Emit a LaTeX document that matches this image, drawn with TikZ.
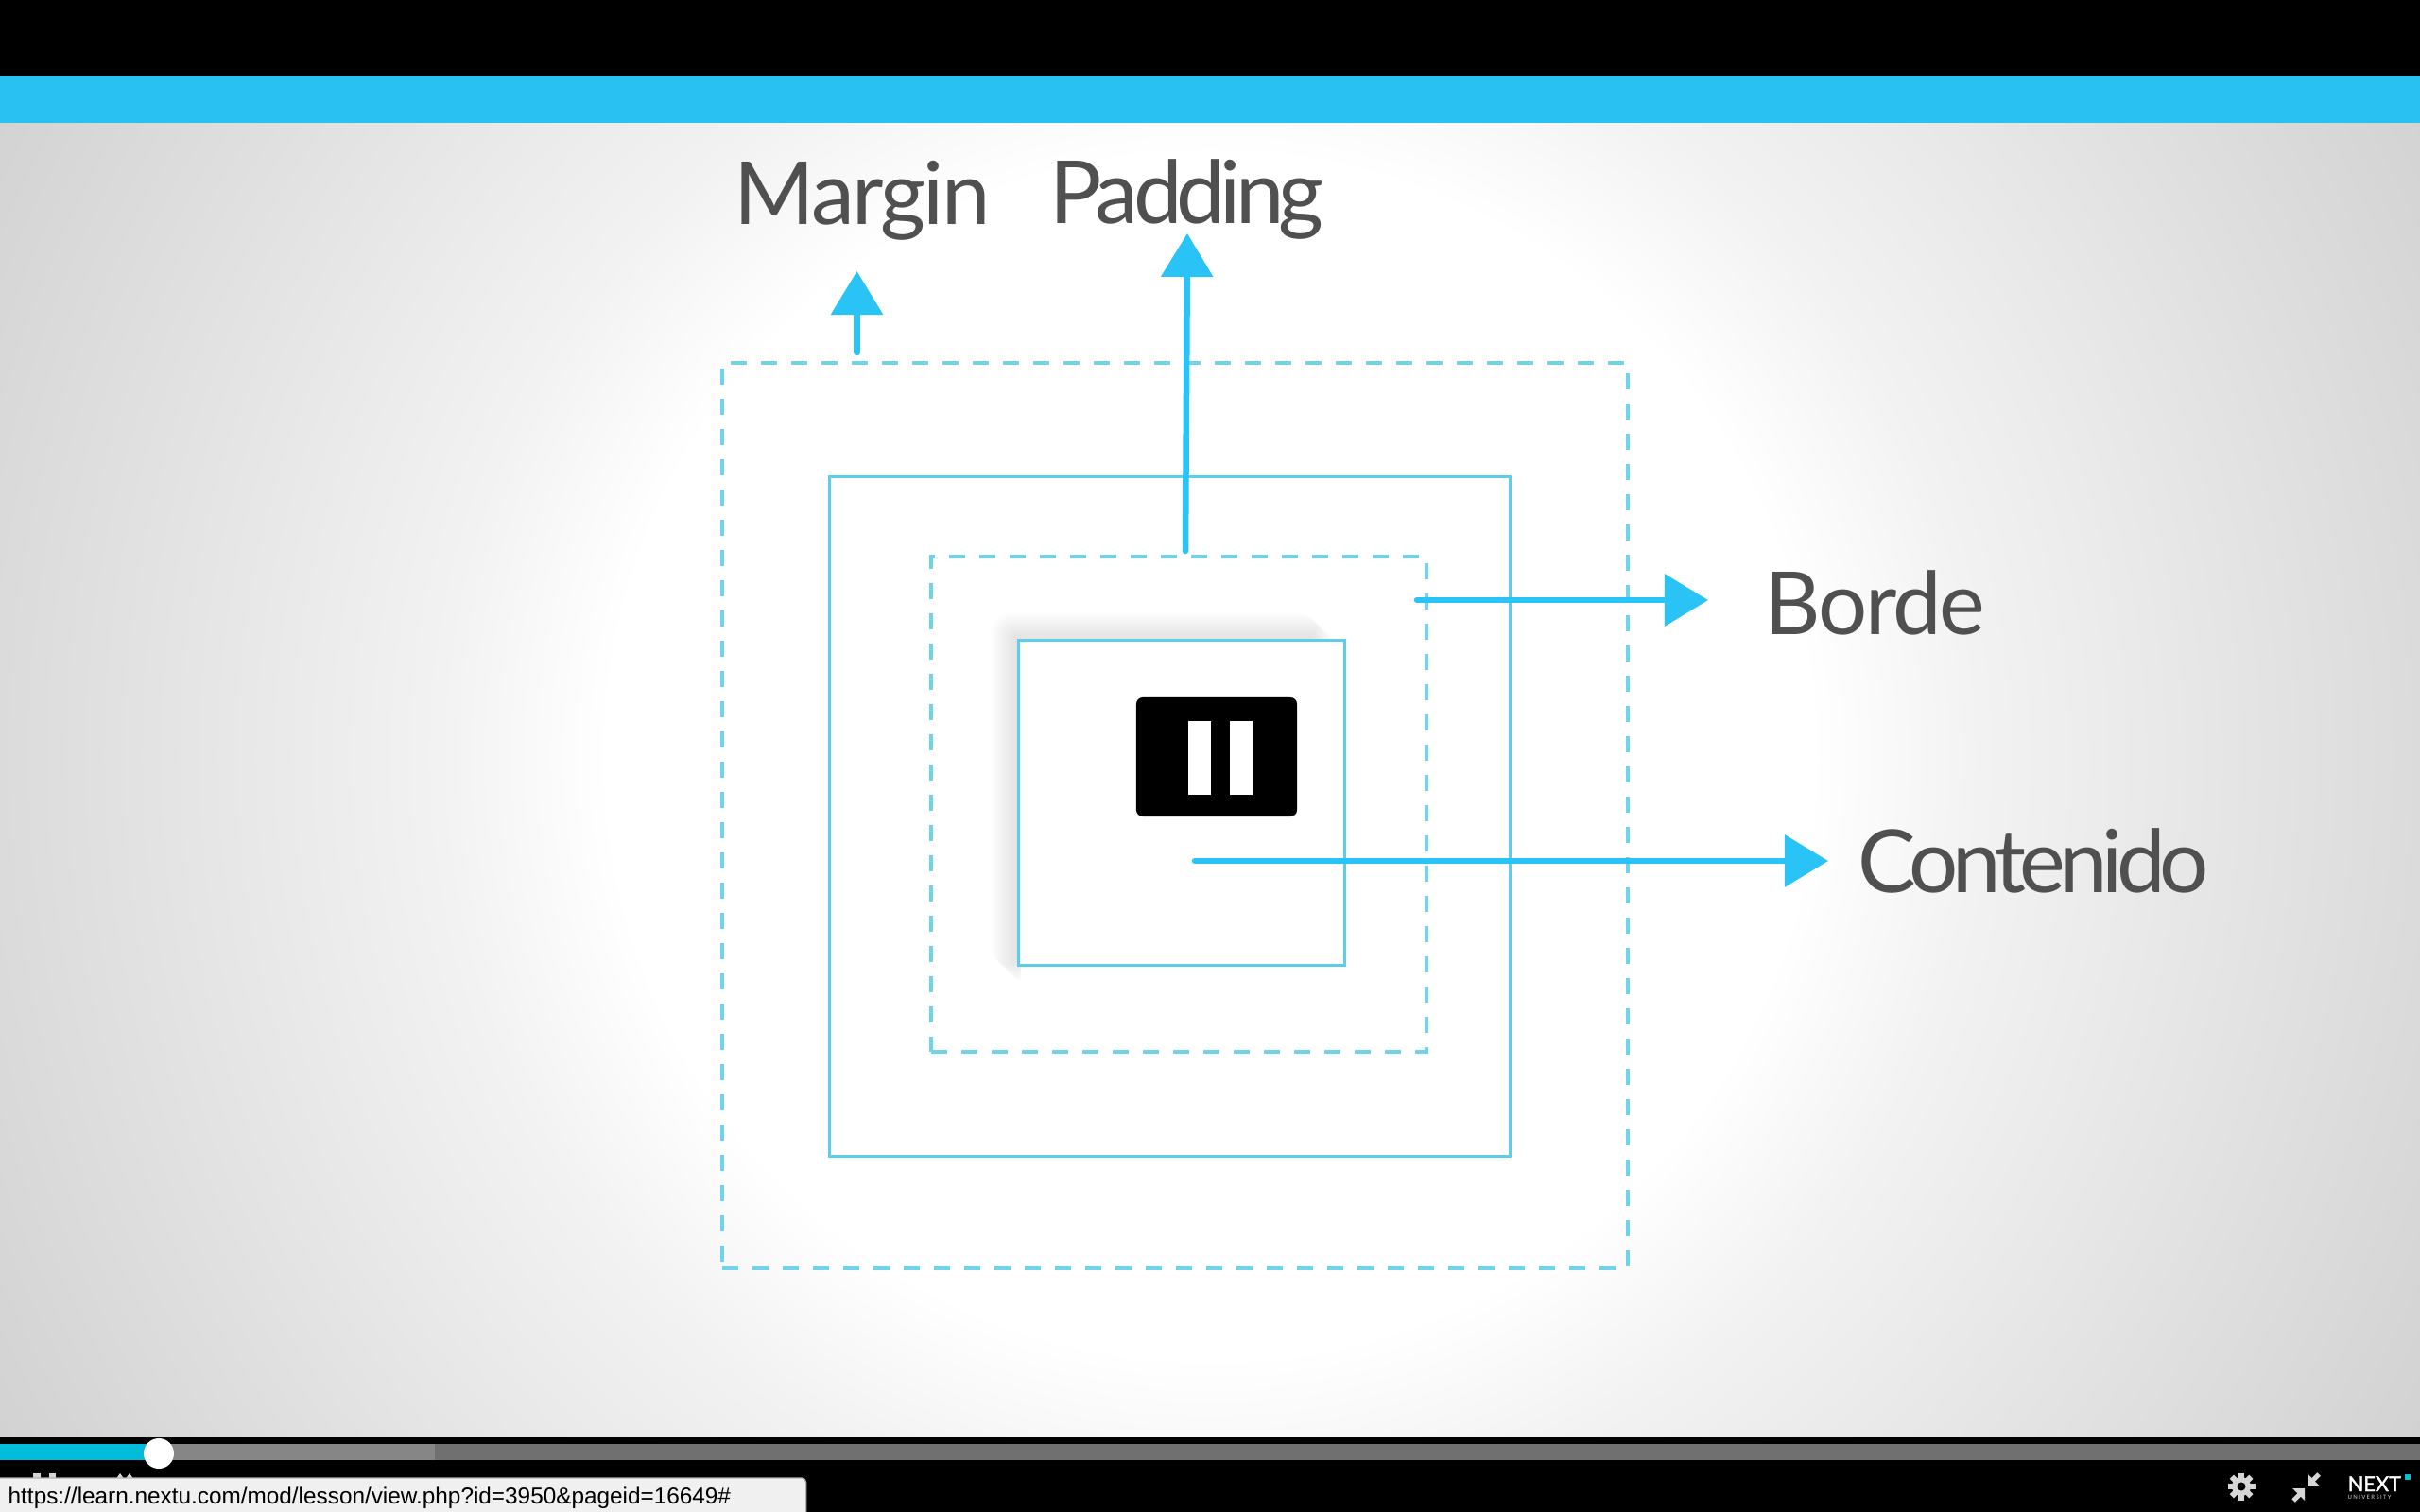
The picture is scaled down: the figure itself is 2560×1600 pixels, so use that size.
\documentclass[tikz,border=0pt]{standalone}
\usepackage{fontspec}
\usetikzlibrary{arrows.meta}
\setmainfont{Lato}
\newfontfamily\urlfont{Liberation Sans}
\newfontfamily\logofont[FakeBold=1.5]{Lato}
\newfontfamily\spacedfont[LetterSpace=22]{Lato}
\definecolor{barblue}{HTML}{29C1F2}
\definecolor{arrowblue}{HTML}{29C4F5}
\definecolor{boxblue}{HTML}{5CCDEB}
\definecolor{dashblue}{HTML}{70D3EA}
\definecolor{labelgray}{HTML}{505050}
\definecolor{playcyan}{HTML}{00BCD8}
\definecolor{iconwhite}{HTML}{D6D6D6}
\definecolor{glowa}{HTML}{F2F2F2}
\definecolor{glowb}{HTML}{EBEBEB}
\definecolor{glowc}{HTML}{DFDFDF}
\definecolor{glowd}{HTML}{D5D5D5}
\definecolor{glowe}{HTML}{CCCCCC}
\pgfdeclareradialshading{glow}{\pgfpointorigin}{color(0bp)=(white); color(10.6bp)=(white); color(13.6bp)=(glowa); color(16bp)=(glowb); color(20bp)=(glowc); color(23.4bp)=(glowd); color(26.6bp)=(glowe); color(50bp)=(glowe)}
\tikzset{
  solidbox/.style={draw=boxblue,line width=0.03cm,inner sep=0pt,outer sep=0pt},
  dashbox/.style={draw=dashblue,line width=0.04cm,dash pattern=on 0.17cm off 0.15cm,inner sep=0pt,outer sep=0pt},
  pointer/.style={draw=arrowblue,line width=0.065cm,line cap=round,-{Triangle[width=0.54cm,length=0.46cm,fill=arrowblue]}},
  boxlabel/.style={text=labelgray,inner sep=0pt,anchor=base west,font=\fontsize{26.2}{30}\selectfont\addfontfeature{LetterSpace=#1}}
}
\begin{document}
\begin{tikzpicture}[x=0.01cm,y=-0.01cm]
\useasboundingbox (0,0) rectangle (2560,1600);
\fill[black] (0,0) rectangle (2560,1600);
% slide
\begin{scope}
\clip (0,130) rectangle (2560,1520);
\shade[shading=glow] (1280,800) circle (1500);
\end{scope}
\fill[barblue] (0,80) rectangle (2560,130);
% shadow of the content box
\foreach \d in {2,4,...,30}
  \fill[black,opacity=0.009,rounded corners=0.2*\d] (1078-\d,678-\d) -- (1412-\d*0.6,678-\d) -- (1412-\d*0.6,680) -- (1080,680) -- (1080,1040-\d*0.6) -- (1078-\d,1040-\d*0.6) -- cycle;
% boxes
\node[dashbox,minimum width=9.58cm,minimum height=9.58cm] (margin) at (1243,863) {};
\node[solidbox,minimum width=7.19cm,minimum height=7.18cm] (border) at (1237.5,864) {};
\node[dashbox,minimum width=5.24cm,minimum height=5.24cm] (padding) at (1247,851) {};
\node[solidbox,fill=white,minimum width=3.44cm,minimum height=3.43cm] (content) at (1250,849.5) {};
% pause
\node[fill=black,rounded corners=0.07cm,inner sep=0pt,minimum width=1.7cm,minimum height=1.26cm] (pause) at (1287,801) {};
\fill[white] (1257,763) rectangle (1281,841);
\fill[white] (1301,763) rectangle (1325,841);
% labels
\node[boxlabel=-2.8] (marginlabel) at (776,238) {Margin};
\node[boxlabel=-6.2] (paddinglabel) at (1110,237) {Padding};
\node[boxlabel=-2.6] (bordelabel) at (1866,671) {Borde};
\node[boxlabel=-7] (contenidolabel) at (1965,944) {Contenido};
% pointers
\coordinate (margintail) at (906.5,373);
\coordinate (margintip) at (906.5,287);
\coordinate (paddingtail) at (1254,583);
\coordinate (paddingtip) at (1256,247);
\coordinate (bordetail) at (1499,635);
\coordinate (bordetip) at (1807,635);
\coordinate (contenidotail) at (1264,911);
\coordinate (contenidotip) at (1934,911);
\draw[pointer] (margintail) -- (margintip);
\draw[pointer] (paddingtail) -- (paddingtip);
\draw[pointer] (bordetail) -- (bordetip);
\draw[pointer] (contenidotail) -- (contenidotip);
% player
\fill[gray!95] (0,1528) rectangle (460,1545);
\fill[black!56] (460,1528) rectangle (2560,1545);
\fill[playcyan] (0,1528) rectangle (168,1545);
\fill[white] (168,1538) circle (16);
\fill[iconwhite] (35,1559) rectangle (43,1566);
\fill[iconwhite] (52,1559) rectangle (59,1566);
\fill[iconwhite] (122,1566) -- (127,1559) -- (132,1566) -- cycle;
\fill[iconwhite] (132,1566) -- (137,1559) -- (142,1566) -- cycle;
\node[draw=gray!60,fill=white!94!black,rounded corners=0.05cm,inner sep=0pt,minimum width=8.63cm,minimum height=0.46cm] (tooltip) at (421,1587) {};
\node[anchor=base west,inner sep=0pt,font=\urlfont\fontsize{6.92}{9}\selectfont,text=black] (url) at (8,1591) {https://learn.nextu.com/mod/lesson/view.php?id=3950\&pageid=16649\#};
% gear
\fill[iconwhite] (2371,1573) circle (10);
\foreach \a in {0,45,...,315}
  \draw[iconwhite,line width=0.06cm] (2371,1573) -- +(\a:14.5);
\fill[black] (2371,1573) circle (4.5);
% collapse
\fill[iconwhite] (2441,1572.7) -- (2454,1572.7) -- (2441,1559.3) -- cycle;
\draw[iconwhite,line width=0.05cm] (2446,1567) -- (2453,1560);
\fill[iconwhite] (2438,1575) -- (2425,1575) -- (2438,1588) -- cycle;
\draw[iconwhite,line width=0.05cm] (2433,1581) -- (2426,1588);
% logo
\node[anchor=base west,inner sep=0pt,text=white,font=\logofont\fontsize{6.2}{7}\selectfont] (nextlogo) at (2483,1578) {NEXT};
\node[anchor=base west,inner sep=0pt,text=iconwhite,font=\spacedfont\fontsize{1.7}{2}\selectfont] (university) at (2483,1586) {UNIVERSITY};
\fill[playcyan] (2544,1560) rectangle (2550,1566);
\end{tikzpicture}
\end{document}
